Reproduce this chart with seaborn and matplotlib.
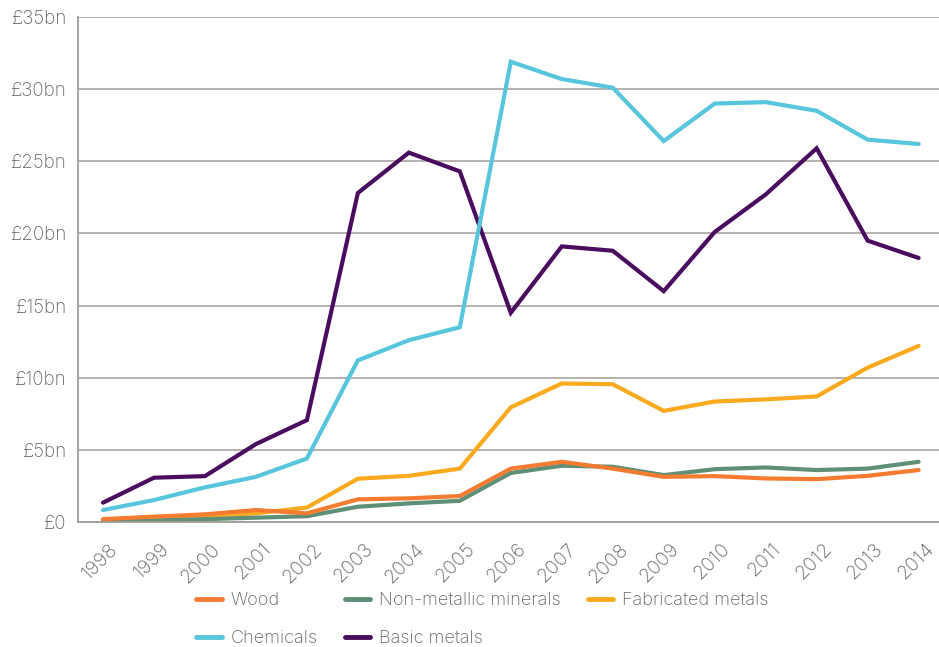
import matplotlib
matplotlib.use("Agg")
import matplotlib.pyplot as plt
import matplotlib.transforms as mtransforms
from matplotlib.lines import Line2D
from matplotlib.ticker import FixedLocator
import numpy as np
import pandas as pd
import seaborn as sns

years = [str(y) for y in range(1998, 2015)]

wood = [0.2, 0.37, 0.53, 0.83, 0.6, 1.57, 1.64, 1.8, 3.7, 4.17, 3.7, 3.13, 3.18, 3.02, 2.97, 3.2, 3.6]
non_metallic = [0.05, 0.1, 0.2, 0.3, 0.4, 1.06, 1.29, 1.47, 3.4, 3.9, 3.83, 3.25, 3.66, 3.78, 3.6, 3.7, 4.17]
fabricated = [0.1, 0.25, 0.4, 0.6, 1.0, 3.0, 3.2, 3.7, 7.95, 9.6, 9.55, 7.7, 8.35, 8.5, 8.7, 10.7, 12.2]
chemicals = [0.83, 1.52, 2.4, 3.13, 4.4, 11.2, 12.6, 13.5, 31.9, 30.7, 30.1, 26.4, 29.0, 29.1, 28.5, 26.5, 26.2]
basic_metals = [1.34, 3.07, 3.18, 5.4, 7.06, 22.8, 25.6, 24.3, 14.5, 19.1, 18.8, 16.0, 20.1, 22.7, 25.9, 19.5, 18.3]

y_ticks = [0, 5, 10, 15, 20, 25, 30, 35]
y_tick_labels = ["£0", "£5bn", "£10bn", "£15bn", "£20bn", "£25bn", "£30bn", "£35bn"]

series = {
    "Wood": wood,
    "Non-metallic minerals": non_metallic,
    "Fabricated metals": fabricated,
    "Chemicals": chemicals,
    "Basic metals": basic_metals,
}
colors = {
    "Wood": "#F47B30",
    "Non-metallic minerals": "#5E8F77",
    "Fabricated metals": "#FBAA1F",
    "Chemicals": "#57C6DD",
    "Basic metals": "#4A0C5E",
}
draw_order = ["Basic metals", "Chemicals", "Fabricated metals", "Non-metallic minerals", "Wood"]

df = pd.DataFrame(
    [(i, y, name, v) for name, vals in series.items() for i, (y, v) in enumerate(zip(years, vals))],
    columns=["pos", "year", "sector", "value"],
)

sns.set_theme(style="white")
plt.rcParams["font.family"] = ["Inter", "DejaVu Sans"]
text_color = "#666666"
axis_color = "#A39C97"
font_w = "light"

fig = plt.figure(figsize=(9.39, 6.47), dpi=100)
ax = fig.add_axes([78 / 939, 1 - 522 / 647, 1 - 78 / 939, (522 - 17) / 647])

sns.lineplot(
    data=df, x="pos", y="value", hue="sector", hue_order=draw_order,
    palette=colors, linewidth=3.0, legend=False, ax=ax,
    solid_capstyle="round", solid_joinstyle="miter",
)

ax.set_xlim(-0.49, 16.4)
ax.set_ylim(0, 35)
ax.set_xlabel("")
ax.set_ylabel("")

# horizontal grid
ax.set_yticks(y_ticks)
ax.set_yticklabels(y_tick_labels)
ax.yaxis.grid(True, color=axis_color, linewidth=1.1)
ax.xaxis.grid(False)
ax.set_axisbelow(True)

# year labels at data points, tick marks between them
ax.set_xticks(range(len(years)))
ax.set_xticklabels(years, rotation=45, ha="right", va="top", rotation_mode="anchor")
ax.xaxis.set_minor_locator(FixedLocator(np.arange(0.5, len(years) - 1, 1.0)))
ax.tick_params(axis="x", which="major", length=0, pad=13, labelsize=14, labelcolor=text_color)
ax.tick_params(axis="x", which="minor", length=8, width=1.1, direction="in", color=axis_color)
ax.tick_params(axis="y", length=0, pad=8, labelsize=13.5, labelcolor=text_color)
shift = mtransforms.ScaledTranslation(6 / 100, 0, fig.dpi_scale_trans)
for lab in ax.get_xticklabels():
    lab.set_fontweight(font_w)
    lab.set_transform(lab.get_transform() + shift)
for lab in ax.get_yticklabels():
    lab.set_fontweight(font_w)

for side in ["top", "right"]:
    ax.spines[side].set_visible(False)
for side in ["left", "bottom"]:
    ax.spines[side].set_color(axis_color)
    ax.spines[side].set_linewidth(1.3)

legend_names = ["Wood", "Chemicals", "Non-metallic minerals", "Basic metals", "Fabricated metals"]
handles = [
    Line2D([0], [0], color=colors[n], linewidth=3.5, solid_capstyle="round")
    for n in legend_names
]
leg = fig.legend(
    handles, legend_names, ncol=3, loc="upper left", bbox_to_anchor=(180 / 939, 1 - 576 / 647),
    frameon=False, handlelength=1.4, handletextpad=0.5, columnspacing=1.5,
    labelspacing=1.15, prop={"size": 13, "weight": font_w},
)
for t in leg.get_texts():
    t.set_color(text_color)

fig.savefig("out.png", dpi=100)
